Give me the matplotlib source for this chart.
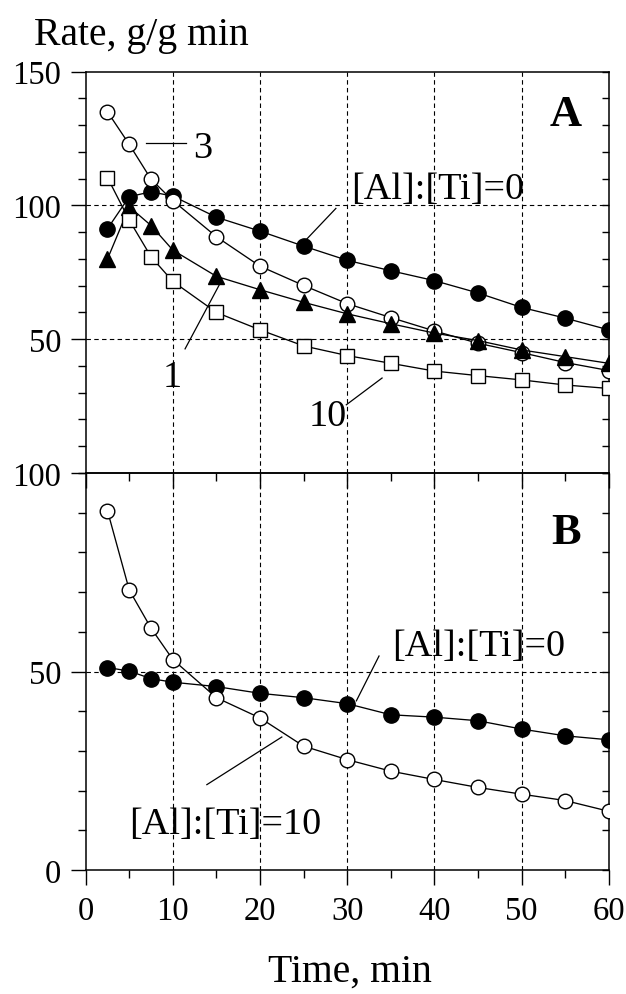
import matplotlib
matplotlib.use("Agg")
import matplotlib.pyplot as plt
from matplotlib.ticker import MultipleLocator, FixedLocator, NullFormatter

plt.rcParams['font.family'] = ['Liberation Serif', 'DejaVu Serif']

# ---------------- data ----------------
time = [2.5, 5, 7.5, 10, 15, 20, 25, 30, 35, 40, 45, 50, 55, 60]

# Panel A
a_ratio0 = [91.3, 103.3, 105.1, 103.5, 95.6, 90.4, 84.8, 79.5, 75.6, 71.9, 67.3, 61.9, 57.9, 53.5]
a_ratio3 = [135.0, 122.8, 109.8, 101.8, 88.3, 77.3, 70.1, 63.3, 58.1, 53.1, 48.5, 45.0, 41.3, 38.3]
a_ratio1 = [80.0, 99.5, 92.5, 83.3, 73.5, 68.5, 63.8, 59.5, 55.8, 52.3, 49.5, 46.0, 43.5, 41.0]
a_ratio10 = [110.4, 94.5, 80.8, 71.6, 60.0, 53.5, 47.5, 43.9, 41.0, 38.1, 36.4, 34.8, 32.9, 31.6]

# Panel B
b_ratio0 = [51.0, 50.1, 48.2, 47.3, 46.2, 44.5, 43.4, 41.9, 39.1, 38.5, 37.6, 35.5, 33.8, 32.8]
b_ratio10 = [90.5, 70.5, 60.9, 53.0, 43.4, 38.3, 31.2, 27.8, 24.9, 22.8, 20.8, 19.1, 17.5, 14.8]

x_ticks = [0, 10, 20, 30, 40, 50, 60]
a_yticks = [50, 100, 150]
b_yticks = [0, 50, 100]

# annotations: (text, text_x, text_y, ha, line_x, line_y)
a_notes = [
    ("3", 12.3, 121.7, 'left', [6.9, 11.5], [123.4, 123.4]),
    ("[Al]:[Ti]=0", 30.4, 106.2, 'left', [28.7, 25.0], [98.9, 86.2]),
    ("1", 9.9, 36.0, 'center', [11.4, 15.5], [46.4, 71.4]),
    ("10", 27.8, 21.5, 'center', [29.9, 34.0], [25.5, 35.5]),
]
b_notes = [
    ("[Al]:[Ti]=0", 35.2, 56.5, 'left', [33.65, 31.05], [53.9, 42.6]),
    ("[Al]:[Ti]=10", 5.0, 11.6, 'left', [13.9, 22.5], [21.5, 33.5]),
]

# ---------------- figure ----------------
fig = plt.figure(figsize=(6.26, 9.95), dpi=100)
L, W = 85.7 / 626, (608.7 - 85.7) / 626
ax1 = fig.add_axes([L, 1 - 474 / 995, W, (474 - 72.7) / 995])
ax2 = fig.add_axes([L, 1 - 871 / 995, W, (871 - 474) / 995])

lw = 0.95
ms = 11
grid_kw = dict(color='black', lw=0.8, ls=(0, (4, 3)), zorder=1)


def style(ax, ylim, yticks, hgrid, labels_x):
    ax.set_xlim(0, 60)
    ax.set_ylim(*ylim)
    for s in ax.spines.values():
        s.set_linewidth(1.1)
    ax.xaxis.set_major_locator(FixedLocator(x_ticks))
    ax.xaxis.set_minor_locator(MultipleLocator(5))
    ax.yaxis.set_major_locator(FixedLocator(yticks))
    ax.yaxis.set_minor_locator(MultipleLocator(10))
    ax.tick_params(axis='both', which='major', direction='out', length=10.5,
                   width=1.0, labelsize=23.5, top=False, right=False)
    ax.tick_params(axis='both', which='minor', direction='out', length=5.5,
                   width=1.0, top=False, right=False)
    ax.tick_params(axis='y', which='major', pad=7)
    ax.tick_params(axis='x', which='major', pad=8)
    if not labels_x:
        ax.xaxis.set_major_formatter(NullFormatter())
    for gx in x_ticks[1:-1]:
        ax.axvline(gx, **grid_kw)
    for gy in hgrid:
        ax.axhline(gy, **grid_kw)
    # inward ticks on right
    axr = ax.twinx()
    axr.set_ylim(*ylim)
    axr.yaxis.set_major_locator(MultipleLocator(10))
    axr.tick_params(axis='y', which='major', direction='in', length=5,
                    width=1.0, labelright=False)
    for s in axr.spines.values():
        s.set_visible(False)
    ax.set_zorder(axr.get_zorder() + 1)
    ax.patch.set_visible(False)


style(ax1, (0, 150), a_yticks, [50, 100], False)
style(ax2, (0, 100), b_yticks, [50], True)

line_kw = dict(color='black', lw=lw, zorder=3)
ax1.plot(time, a_ratio0, marker='o', ms=ms, mfc='black', mec='black', **line_kw)
ax1.plot(time, a_ratio3, marker='o', ms=ms - 0.5, mfc='white', mec='black', mew=1.0, **line_kw)
ax1.plot(time, a_ratio1, marker='^', ms=ms + 0.5, mfc='black', mec='black', **line_kw)
ax1.plot(time, a_ratio10, marker='s', ms=ms - 0.5, mfc='white', mec='black', mew=1.0, **line_kw)

ax2.plot(time, b_ratio0, marker='o', ms=ms, mfc='black', mec='black', **line_kw)
ax2.plot(time, b_ratio10, marker='o', ms=ms - 0.5, mfc='white', mec='black', mew=1.0, **line_kw)

for ax, notes in ((ax1, a_notes), (ax2, b_notes)):
    for txt, tx, ty, ha, lx, ly in notes:
        ax.text(tx, ty, txt, fontsize=27.5, ha=ha, va='center', zorder=4)
        ax.plot(lx, ly, color='black', lw=0.9, zorder=4)

ax1.text(55.1, 134.2, "A", fontsize=32, fontweight='bold', ha='center', va='center')
ax2.text(55.1, 85.2, "B", fontsize=32, fontweight='bold', ha='center', va='center')

fig.text(34 / 626, 1 - 45 / 995, "Rate, g/g min", fontsize=28.5, ha='left', va='baseline')
fig.text(350 / 626, 1 - 982 / 995, "Time, min", fontsize=28.5, ha='center', va='baseline')

fig.savefig("out.png", dpi=100)
